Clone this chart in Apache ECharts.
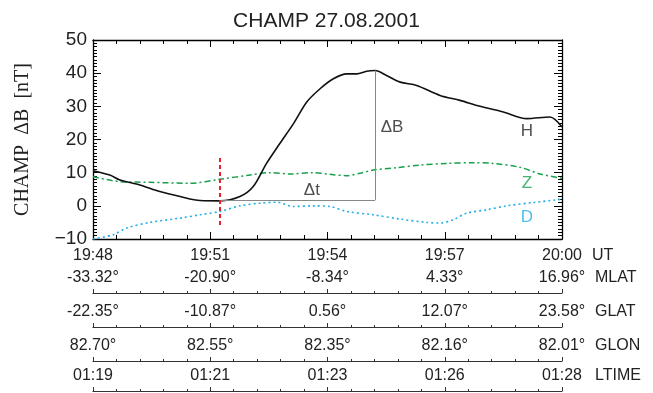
<!DOCTYPE html>
<html><head><meta charset="utf-8">
<script src="https://cdn.jsdelivr.net/npm/echarts@6/dist/echarts.min.js"></script>
<style>html,body{margin:0;padding:0;background:#fff}#c{width:653px;height:393px}</style>
</head><body><div id="c"></div>
<script>
// minutes after 19:48 UT
const hT = [0, 0.43, 0.69, 1.2, 1.71, 2.23, 2.74, 3.25, 3.76, 4.1, 4.44, 4.78, 5.13, 5.47, 5.81, 6.15, 6.49, 6.75, 7.0, 7.22, 7.51, 7.86, 8.28, 8.88, 9.39, 9.9, 10.5, 11.1, 11.69, 12.0];
const hV = [10.6, 9.3, 7.8, 6.3, 4.3, 2.8, 1.6, 1.5, 2.8, 5.8, 12.8, 18.8, 24.8, 31.3, 35.3, 38.3, 39.8, 39.8, 40.6, 40.8, 39.3, 37.3, 36.3, 33.3, 31.8, 30.0, 28.3, 26.3, 26.8, 23.8];
const zT = [0, 0.69, 1.46, 2.48, 3.25, 4.02, 4.53, 5.04, 5.64, 6.06, 6.49, 6.83, 7.17, 7.77, 8.37, 9.05, 9.73, 10.24, 10.93, 11.44, 12.0];
const zV = [8.8, 7.3, 7.1, 6.8, 8.0, 9.3, 10.0, 9.6, 10.0, 9.5, 9.1, 9.8, 10.8, 11.5, 12.3, 12.8, 13.0, 12.8, 11.6, 9.6, 8.3];
const dT = [0, 0.52, 0.86, 1.46, 2.23, 2.74, 3.25, 3.76, 4.27, 4.7, 5.12, 5.64, 6.06, 6.49, 7.17, 7.86, 8.54, 8.88, 9.22, 9.56, 10.07, 10.58, 11.27, 12.0];
const dV = [-10.0, -8.7, -6.7, -5.0, -3.7, -2.7, -1.7, 0.0, 0.8, 1.1, -0.2, 0.0, -0.2, -1.7, -2.7, -4.0, -5.0, -5.2, -4.2, -2.2, -1.2, 0.0, 1.0, 2.0];

const tickMinutes = [0, 3, 6, 9, 12];
const utLabels = ['19:48', '19:51', '19:54', '19:57', '20:00'];
const mlatLabels = ['-33.32°', '-20.90°', '-8.34°', '4.33°', '16.96°'];
const glatLabels = ['-22.35°', '-10.87°', '0.56°', '12.07°', '23.58°'];
const glonLabels = ['82.70°', '82.55°', '82.35°', '82.16°', '82.01°'];
const ltimeLabels = ['01:19', '01:21', '01:23', '01:26', '01:28'];

// annotation values
const onsetT = 3.25, onsetTop = 14.4, onsetBottom = -6.6;
const baseV = 1.8, peakT = 7.22, peakV = 40.8;
const curveLabels = [
  {name: 'H', t: 11.1, v: 22.5, color: '#222'},
  {name: 'Z', t: 11.1, v: 6.8, color: '#18a04c'},
  {name: 'D', t: 11.1, v: -3.4, color: '#22b0e6'},
  {name: 'ΔB', t: 7.65, v: 23.7, color: '#222'},
  {name: 'Δt', t: 5.6, v: 4.7, color: '#222'}
];

const zip = (a, b) => a.map((x, i) => [x, b[i]]);
const fontSans = 'Liberation Sans, Arial, sans-serif';
const txt = '#222';

const L = 93, R = 91;
const extraRows = [
  {labels: mlatLabels, name: 'MLAT', y: 293},
  {labels: glatLabels, name: 'GLAT', y: 327},
  {labels: glonLabels, name: 'GLON', y: 361},
  {labels: ltimeLabels, name: 'LTIME', y: 391}
];

const mk = () => ({color: '#000', width: 1});
const grids = [{left: L, right: R, top: 40, height: 199}];
const xAxes = [
  {gridIndex: 0, type: 'value', min: 0, max: 12, interval: 3, position: 'bottom',
   axisLine: {onZero: false, lineStyle: {color: '#000', width: 1.3}},
   axisTick: {show: true, inside: true, length: 7, lineStyle: mk()},
   minorTick: {show: true, splitNumber: 5, length: 4, lineStyle: mk()},
   splitLine: {show: false},
   axisLabel: {margin: 9, fontSize: 16, color: txt, fontFamily: fontSans,
     formatter: v => utLabels[tickMinutes.indexOf(v)]},
   name: 'UT', nameLocation: 'end', nameGap: 30,
   nameTextStyle: {fontSize: 16, color: txt, fontFamily: fontSans, verticalAlign: 'top', lineHeight: 34}},
  {gridIndex: 0, type: 'value', min: 0, max: 12, interval: 3, position: 'top',
   axisLine: {onZero: false, lineStyle: {color: '#000', width: 1.3}},
   axisTick: {show: true, inside: true, length: 7, lineStyle: mk()},
   minorTick: {show: true, splitNumber: 5, length: 4, lineStyle: mk()},
   splitLine: {show: false}, axisLabel: {show: false}}
];
const yAxes = [
  {gridIndex: 0, type: 'value', min: -10, max: 50, interval: 10, position: 'left',
   axisLine: {show: true, onZero: false, lineStyle: {color: '#000', width: 1.3}},
   axisTick: {show: true, inside: true, length: 8, lineStyle: mk()},
   minorTick: {show: true, splitNumber: 10, length: 4, lineStyle: mk()},
   splitLine: {show: false},
   axisLabel: {margin: 6, fontSize: 19, color: txt, fontFamily: fontSans,
     formatter: v => (v < 0 ? '\u2212' + Math.abs(v) : String(v))},
   name: 'CHAMP  ΔB  [nT]', nameLocation: 'middle', nameGap: 60, nameRotate: 90,
   nameTextStyle: {fontSize: 20, color: txt, fontFamily: 'Liberation Serif, Times New Roman, serif'}},
  {gridIndex: 0, type: 'value', min: -10, max: 50, interval: 10, position: 'right',
   axisLine: {show: true, onZero: false, lineStyle: {color: '#000', width: 1.3}},
   axisTick: {show: true, inside: true, length: 8, lineStyle: mk()},
   minorTick: {show: true, splitNumber: 10, length: 4, lineStyle: mk()},
   splitLine: {show: false}, axisLabel: {show: false}}
];
extraRows.forEach((row, i) => {
  const gi = i + 1;
  grids.push({left: L, right: R, top: row.y, height: 1});
  xAxes.push({gridIndex: gi, type: 'value', min: 0, max: 12, interval: 3, position: 'top',
    axisLine: {onZero: false, lineStyle: {color: '#333', width: 1.2}},
    axisTick: {show: true, inside: false, length: 4, lineStyle: {color: '#333', width: 1}},
    minorTick: {show: true, splitNumber: 5, length: 2, lineStyle: {color: '#333', width: 1}},
    splitLine: {show: false},
    axisLabel: {margin: 7, fontSize: 16, color: txt, fontFamily: fontSans,
      formatter: v => row.labels[tickMinutes.indexOf(v)]},
    name: row.name, nameLocation: 'end', nameGap: 33,
    nameTextStyle: {fontSize: 16, color: txt, fontFamily: fontSans, verticalAlign: 'bottom', lineHeight: 30}});
  yAxes.push({gridIndex: gi, type: 'value', show: false, min: 0, max: 1});
});

const option = {
  backgroundColor: '#fff',
  animation: false,
  title: {text: 'CHAMP 27.08.2001', left: 'center', top: 6,
    textStyle: {fontSize: 21, fontWeight: 'normal', color: txt, fontFamily: fontSans}},
  grid: grids, xAxis: xAxes, yAxis: yAxes,
  series: [
    {name: 'Z', type: 'line', xAxisIndex: 0, yAxisIndex: 0, data: zip(zT, zV), showSymbol: false, smooth: 0.3,
     lineStyle: {color: '#18a04c', width: 1.5, type: [6, 3, 2, 3]}},
    {name: 'D', type: 'line', xAxisIndex: 0, yAxisIndex: 0, data: zip(dT, dV), showSymbol: false, smooth: 0.3,
     lineStyle: {color: '#22b0e6', width: 1.6, type: [2, 3]}},
    {name: 'H', type: 'line', xAxisIndex: 0, yAxisIndex: 0, data: zip(hT, hV), showSymbol: false, smooth: 0.3,
     lineStyle: {color: '#111', width: 1.6},
     markLine: {silent: true, symbol: 'none', label: {show: false},
       lineStyle: {color: '#888', width: 1, type: 'solid'},
       data: [
         [{coord: [onsetT, baseV]}, {coord: [peakT, baseV]}],
         [{coord: [peakT, baseV]}, {coord: [peakT, peakV]}],
         [{coord: [onsetT, onsetTop], lineStyle: {color: '#e8202a', width: 2, type: [4, 3]}},
          {coord: [onsetT, onsetBottom]}]
       ]}},
    {name: 'labels', type: 'scatter', xAxisIndex: 0, yAxisIndex: 0, symbolSize: 0, silent: true,
     data: curveLabels.map(c => ({value: [c.t, c.v], name: c.name,
       label: {show: true, position: 'inside', formatter: c.name, color: c.color,
         fontSize: 17, fontFamily: fontSans}}))}
  ]
};
echarts.init(document.getElementById('c'), null, {renderer: 'canvas'}).setOption(option);
</script></body></html>
